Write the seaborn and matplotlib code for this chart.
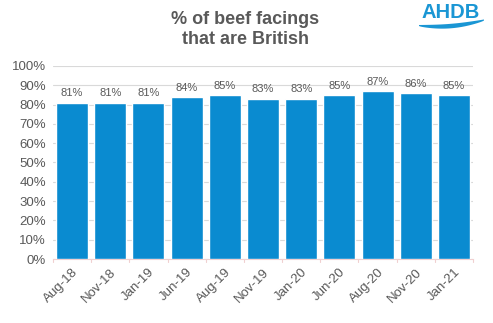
import matplotlib
matplotlib.use("Agg")
import matplotlib.pyplot as plt
from matplotlib.patches import Polygon
import numpy as np
import pandas as pd
import seaborn as sns

periods = ["Aug-18", "Nov-18", "Jan-19", "Jun-19", "Aug-19", "Nov-19",
           "Jan-20", "Jun-20", "Aug-20", "Nov-20", "Jan-21"]
share_british = [81, 81, 81, 84, 85, 83, 83, 85, 87, 86, 85]
y_ticks = [0, 10, 20, 30, 40, 50, 60, 70, 80, 90, 100]

sns.set_theme(style="white")
plt.rcParams["font.family"] = ["Liberation Sans", "DejaVu Sans"]

bar_color = "#0a8bd0"
text_gray = "#595959"

df = pd.DataFrame({"period": periods, "share": share_british})

fig = plt.figure(figsize=(4.93, 3.23), dpi=100)
ax = fig.add_axes([0.1075, 0.198, 0.852, 0.598])

sns.barplot(data=df, x="period", y="share", color=bar_color,
            saturation=1, width=0.84, ax=ax, zorder=3)

ax.set_ylim(0, 100)
ax.set_xlim(-0.5, len(periods) - 0.5)
ax.set_yticks(y_ticks)
ax.set_yticklabels([f"{v}%" for v in y_ticks], fontsize=9.5, color=text_gray)
ax.yaxis.grid(True, color="#d9d9d9", linewidth=0.8, zorder=0)
ax.set_xlabel("")
ax.set_ylabel("")
ax.tick_params(axis="y", length=0, pad=5)

ax.set_xticks(range(len(periods)))
ax.set_xticklabels(periods, rotation=45, ha="right", rotation_mode="anchor",
                   fontsize=9.5, color=text_gray)
ax.tick_params(axis="x", length=0, pad=5)

for s in ["top", "right", "left"]:
    ax.spines[s].set_visible(False)
ax.spines["bottom"].set_color("#f0d0d0")
ax.spines["bottom"].set_linewidth(0.8)

# small separators between categories on the baseline
for b in np.arange(-0.5, len(periods) + 0.5, 1.0):
    ax.plot([b, b], [0, -1.5], color="#f0d0d0", lw=0.8, clip_on=False)

for i, v in enumerate(share_british):
    ax.text(i, v + 2.2, f"{v}%", ha="center", va="bottom", fontsize=8,
            color=text_gray, zorder=4)

fig.text(0.497, 0.966, "% of beef facings\nthat are British", ha="center",
         va="top", fontsize=13, fontweight="bold", color=text_gray,
         linespacing=1.2)

# brand mark in the top-right corner
logo_blue = "#1a96d4"
fig.text(0.915, 0.99, "AHDB", ha="center", va="top", fontsize=14.5,
         fontweight="bold", color=logo_blue)
W, H = 493, 323
xs = np.linspace(419, 484, 50)
t = (xs - 419) / 65
top = 25.0 - 5.5 * t + 1.5 * np.sin(t * np.pi)
bot = top + 1.0 + 3.5 * np.sin(t * np.pi) ** 0.7
pts = np.concatenate([np.column_stack([xs, top]),
                      np.column_stack([xs[::-1], bot[::-1]])])
pts_fig = np.column_stack([pts[:, 0] / W, 1 - pts[:, 1] / H])
fig.add_artist(Polygon(pts_fig, closed=True, facecolor=logo_blue,
                       edgecolor="none", transform=fig.transFigure))

fig.savefig("out.png", dpi=100)
